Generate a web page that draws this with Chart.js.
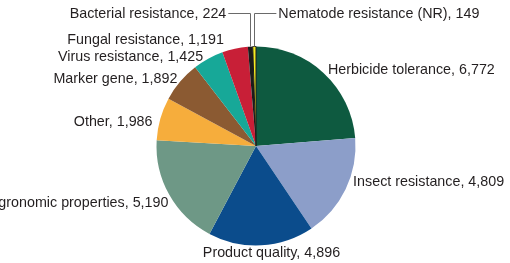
<!DOCTYPE html>
<html>
<head>
<meta charset="utf-8">
<script src="https://cdn.jsdelivr.net/npm/chart.js@4/dist/chart.umd.min.js"></script>
<style>
  html, body { margin: 0; padding: 0; background: #fff; }
  #wrap { width: 510px; height: 263px; }
</style>
</head>
<body>
<div id="wrap"><canvas id="pie" width="510" height="263"></canvas></div>
<script>
// 데이터 — 12시 방향부터 시계방향
const labels = [
  "Herbicide tolerance", "Insect resistance", "Product quality", "Agronomic properties",
  "Other", "Marker gene", "Virus resistance", "Fungal resistance",
  "Bacterial resistance", "Nematode resistance (NR)",
];
const counts = [6772, 4809, 4896, 5190, 1986, 1892, 1425, 1191, 224, 149];
const colors = [
  "#0e5a40", "#8c9ec9", "#0b4c8c", "#6e9886", "#f6ad3c",
  "#8b5a32", "#17a898", "#c81f37", "#1b1b1b", "#f4ec21",
];

// 라벨 배치(스타일): 부채꼴 중앙각 기준 바깥쪽 + 미세 보정
const LABEL_GAP = 5;
const labelStyle = [
  { align: "left", dx: 1, dy: 1 },
  { align: "left", dx: 3, dy: -9 },
  { align: "center", dx: 10, dy: 3 },
  { align: "right", dx: 3.5, dy: 5.5 },
  { align: "right", dx: -3, dy: 5 },
  { align: "right", dx: 1, dy: 1 },
  { align: "right", dx: -2.6, dy: 3 },
  { align: "right", dx: -10, dy: -4 },
  { leader: -1 },   // 왼쪽으로 꺾이는 지시선
  { leader: 1 },    // 오른쪽으로 꺾이는 지시선
];
const LEADER_Y = 13, LEADER_LEN = 22;

const fmt = (n) => n.toLocaleString("en-US");

const pieLabels = {
  id: "pieLabels",
  afterDraw(chart) {
    const ctx = chart.ctx;
    const arcs = chart.getDatasetMeta(0).data;
    ctx.save();
    ctx.font = "14.3px 'Liberation Sans', Arial, sans-serif";
    ctx.fillStyle = "#231f20";
    ctx.textBaseline = "middle";
    arcs.forEach((arc, i) => {
      const { x, y, startAngle, endAngle, outerRadius } = arc.getProps(["x", "y", "startAngle", "endAngle", "outerRadius"], true);
      const mid = (startAngle + endAngle) / 2;
      const st = labelStyle[i];
      const text = `${labels[i]}, ${fmt(counts[i])}`;
      if (st.leader) {
        const px = x + Math.cos(mid) * outerRadius;
        const py = y + Math.sin(mid) * outerRadius;
        const ex = px + st.leader * LEADER_LEN;
        ctx.strokeStyle = "#6a6a6a";
        ctx.lineWidth = 1;
        ctx.beginPath();
        ctx.moveTo(Math.round(px) + 0.5, py);
        ctx.lineTo(Math.round(px) + 0.5, LEADER_Y + 0.5);
        ctx.lineTo(ex, LEADER_Y + 0.5);
        ctx.stroke();
        ctx.textAlign = st.leader < 0 ? "right" : "left";
        ctx.fillText(text, ex + st.leader * 2, LEADER_Y + 1);
        return;
      }
      const r = outerRadius + LABEL_GAP;
      ctx.textAlign = st.align;
      ctx.fillText(text, x + Math.cos(mid) * r + st.dx, y + Math.sin(mid) * r + st.dy);
    });
    ctx.restore();
  },
};

new Chart(document.getElementById("pie"), {
  type: "pie",
  data: {
    labels,
    datasets: [{
      data: counts,
      backgroundColor: colors,
      borderColor: colors.map((c, i) => (i === colors.length - 1 ? "#1b1b1b" : c)),
      borderWidth: colors.map((c, i) => (i === colors.length - 1 ? 1 : 0)),
    }],
  },
  options: {
    responsive: false,
    animation: false,
    layout: { padding: { top: 46, bottom: 17, left: 156, right: 154 } },
    plugins: { legend: { display: false }, tooltip: { enabled: false } },
  },
  plugins: [pieLabels],
});
</script>
</body>
</html>
